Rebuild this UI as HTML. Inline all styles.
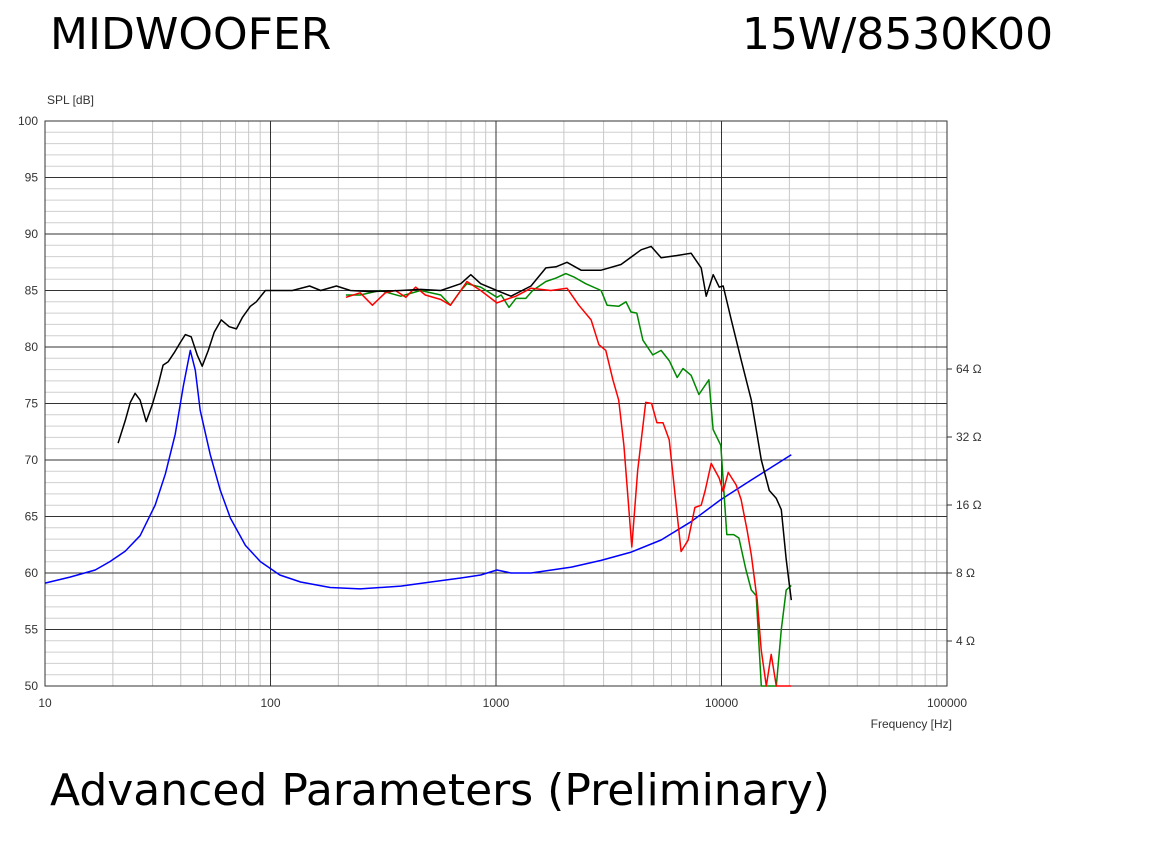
<!DOCTYPE html>
<html><head><meta charset="utf-8">
<style>
html,body{margin:0;padding:0;background:#fff;}
body{width:1152px;height:851px;overflow:hidden;position:relative;font-family:"Liberation Sans",sans-serif;}
.title{position:absolute;font-family:"DejaVu Sans","Liberation Sans",sans-serif;font-size:44px;line-height:1;color:#000;white-space:nowrap;}
svg text{font-family:"Liberation Sans",sans-serif;font-size:12px;fill:#333;}
</style></head>
<body>
<div class="title" style="left:50px;top:13px;">MIDWOOFER</div>
<div class="title" style="left:742px;top:13px;">15W/8530K00</div>
<div class="title" style="left:50px;top:769px;">Advanced Parameters (Preliminary)</div>
<svg id="chart" width="1152" height="851" style="position:absolute;left:0;top:0">
<g id="grid"></g><g id="axes"></g><g id="series"></g>
</svg>
<script>
const blackFreq=[21.1,22.7,23.9,25.1,26.4,28.1,29.9,31.8,33.4,35.2,37.4,39.8,41.9,44.5,47.3,49.8,53,56.3,60.5,65.6,70.6,75,81.4,86.5,94.9,107,125,149,167,196,226,278,378,463,569,698,773,855,1009,1165,1429,1665,1845,2064,2384,2925,3583,4398,4875,5395,6356,7330,8128,8551,9183,9768,10180,11050,12240,13560,15010,16300,17500,18410,19370,20400];
const blackDb=[71.5,73.5,75.1,75.9,75.3,73.4,74.9,76.7,78.4,78.7,79.5,80.4,81.1,80.9,79.3,78.3,79.7,81.3,82.4,81.8,81.6,82.6,83.6,84.0,85.0,85.0,85.0,85.4,85.0,85.4,85.0,84.9,85.0,85.1,85.0,85.6,86.4,85.6,85.0,84.5,85.4,87.0,87.1,87.5,86.8,86.8,87.3,88.6,88.9,87.9,88.1,88.3,87.0,84.5,86.4,85.3,85.4,82.4,78.8,75.3,70.0,67.3,66.6,65.6,61.2,57.6];
const redFreq=[216,250,283,323,358,398,440,486,569,628,698,743,855,1009,1107,1225,1429,1750,2064,2330,2640,2860,3070,3300,3500,3690,4000,4250,4610,4900,5170,5500,5860,6620,7110,7620,8130,8470,9000,9770,10180,10710,11610,12220,12990,13560,14400,15000,15800,16610,17500,20400];
const redDb=[84.4,84.8,83.7,84.8,85.0,84.4,85.3,84.6,84.2,83.7,85.0,85.8,85.0,83.9,84.2,84.5,85.2,85.0,85.2,83.7,82.4,80.2,79.7,77.1,75.3,71.3,62.3,69.1,75.1,75.0,73.3,73.3,71.8,61.9,62.9,65.8,66.0,67.3,69.7,68.4,67.2,68.9,67.8,66.5,63.8,61.6,57.6,53.2,50,52.8,50,50];
const greenFreq=[216,250,306,378,463,569,628,698,743,855,1009,1054,1142,1225,1355,1454,1665,1845,2040,2210,2500,2925,3110,3500,3770,3970,4210,4480,4960,5395,5860,6360,6750,7330,7940,8790,9180,9930,10560,11330,11950,12830,13560,14250,15010,17500,18410,19370,20400];
const greenDb=[84.6,84.6,85.0,84.5,85.0,84.6,83.7,85.0,85.6,85.3,84.4,84.6,83.5,84.3,84.3,85.0,85.8,86.1,86.5,86.2,85.6,85.0,83.7,83.6,84.0,83.1,83.0,80.6,79.3,79.7,78.8,77.3,78.1,77.5,75.8,77.1,72.7,71.3,63.4,63.4,63.1,60.3,58.5,58.0,50,50,55.0,58.5,58.9];
const impFreq=[10,12.9,16.7,19.4,22.7,26.4,30.8,34.2,37.8,41.1,44.1,46.4,48.8,54.1,59.8,66.4,77.4,90.2,110,136,184,250,378,514,698,855,1009,1165,1429,2160,2925,3975,5395,7330,9930,13500,20400];
const impOhm=[7.22,7.67,8.25,8.99,10.0,11.7,16.0,22.0,32.9,54.0,77.4,63.2,42.0,26.7,18.7,14.0,10.6,8.99,7.84,7.3,6.9,6.8,7.0,7.3,7.6,7.84,8.25,8.0,8.0,8.5,9.1,9.9,11.2,13.5,16.9,20.6,26.7];
const yTicks=[50,55,60,65,70,75,80,85,90,95,100];
const xTicks=[10,100,1000,10000,100000];
const xTickLabels=["10","100","1000","10000","100000"];
const ohmTicks=[4,8,16,32,64];

const X0=45,X1=947,Y0=121,Y1=686;
function xs(f){return X0+(Math.log10(f)-1)/4*(X1-X0);}
function ys(db){return Y1-(db-50)/50*(Y1-Y0);}
function yo(o){return 573-Math.log2(o/8)*68;}
const NS="http://www.w3.org/2000/svg";
function mk(parent,tag,attrs){const e=document.createElementNS(NS,tag);for(const k in attrs)e.setAttribute(k,attrs[k]);parent.appendChild(e);return e;}
const grid=document.getElementById('grid'),axes=document.getElementById('axes'),series=document.getElementById('series');

for(let d=50;d<=100;d++){
  if(d%5===0)continue;
  const l=mk(grid,'line',{x1:X0,x2:X1,y1:ys(d),y2:ys(d),stroke:'#cfcfcf','stroke-width':1});
  
  
}
for(let dec=10;dec<100000;dec*=10){
  for(let m=2;m<=9;m++){
    const x=xs(dec*m);
    const l=mk(grid,'line',{x1:x,x2:x,y1:Y0,y2:Y1,stroke:'#c8c8c8','stroke-width':1});
    
    
  }
}
yTicks.forEach(v=>{
  const y=ys(v);
  const l=mk(grid,'line',{x1:X0,x2:X1,y1:y,y2:y,stroke:'#333','stroke-width':1});
  
  
  const t=mk(axes,'text',{x:38,y:y+4,'text-anchor':'end'});t.textContent=v;
  
  
});
xTicks.forEach((v,i)=>{
  const x=xs(v);
  const l=mk(grid,'line',{x1:x,x2:x,y1:Y0,y2:Y1,stroke:'#333','stroke-width':1});
  
  
  const t=mk(axes,'text',{x:x,y:707,'text-anchor':'middle'});t.textContent=xTickLabels[i];
  
  
});
ohmTicks.forEach(o=>{
  const y=yo(o);
  const l=mk(axes,'line',{x1:X1,x2:X1+5,y1:y,y2:y,stroke:'#333'});
  
  
  const t=mk(axes,'text',{x:956,y:y+4});t.textContent=o+' Ω';
  
  
});
const frame=mk(axes,'rect',{x:X0,y:Y0,width:X1-X0,height:Y1-Y0,fill:'none',stroke:'#333'});


const yt=mk(axes,'text',{x:47,y:104});yt.textContent='SPL [dB]';


const xt=mk(axes,'text',{x:952,y:728,'text-anchor':'end'});xt.textContent='Frequency [Hz]';



function line(fr,vals,yf,color,name){
  const pts=fr.map((f,i)=>xs(f).toFixed(1)+','+yf(vals[i]).toFixed(1)).join(' ');
  const p=mk(series,'polyline',{points:pts,fill:'none',stroke:color,'stroke-width':1.5,'stroke-linejoin':'round'});
  
  
}
line(impFreq,impOhm,yo,'#0000ff','impedance-curve');
line(greenFreq,greenDb,ys,'#008800','spl-30deg-curve');
line(redFreq,redDb,ys,'#ff0000','spl-60deg-curve');
line(blackFreq,blackDb,ys,'#000000','spl-on-axis-curve');
</script>
</body></html>
